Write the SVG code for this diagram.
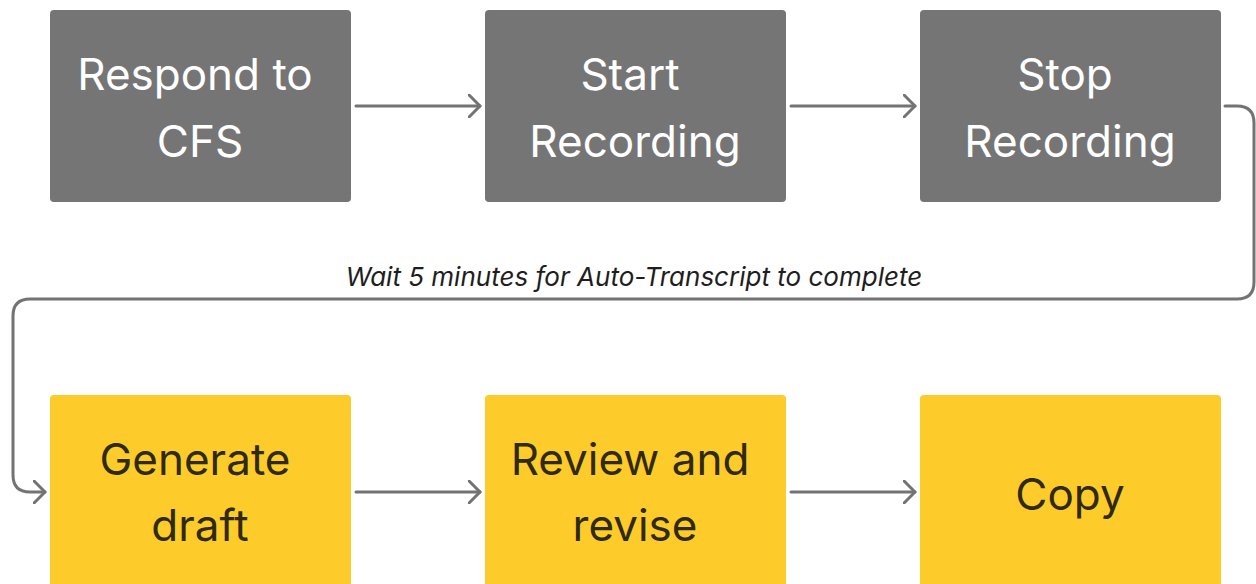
<svg xmlns="http://www.w3.org/2000/svg" width="1256" height="584" viewBox="0 0 1256 584">
<style>
.g rect{fill:#757575}
.y rect{fill:#FDCB2A}
.t{font-family:Inter,"Liberation Sans",sans-serif;font-size:44px;text-anchor:middle}
.g .t{fill:#ffffff}
.y .t{fill:#2F2A0C}
.c{fill:none;stroke:#737373;stroke-width:3;stroke-linecap:round;stroke-linejoin:round}
.lbl{font-family:Inter,"Liberation Sans",sans-serif;font-size:26px;font-style:italic;fill:#1e1e1e}
</style>
<defs>
<marker id="arr" markerUnits="userSpaceOnUse" markerWidth="24" markerHeight="24" viewBox="-12 -12 24 24" refX="0" refY="0" orient="auto">
<path d="M-11,-11 L0,0 L-11,11" fill="none" stroke="#737373" stroke-width="3" stroke-linecap="round" stroke-linejoin="round"/>
</marker>
</defs>
<rect width="1256" height="584" fill="#ffffff"/>
<g id="n1" class="g"><rect x="50" y="10" width="301" height="192" rx="4"/><text class="t" x="195" y="90">Respond to</text><text class="t" x="200" y="157">CFS</text></g>
<g id="n2" class="g"><rect x="485" y="10" width="301" height="192" rx="4"/><text class="t" x="630" y="90">Start</text><text class="t" x="635" y="157">Recording</text></g>
<g id="n3" class="g"><rect x="920" y="10" width="301" height="192" rx="4"/><text class="t" x="1065" y="90">Stop</text><text class="t" x="1070" y="157">Recording</text></g>
<g id="n4" class="y"><rect x="50" y="395" width="301" height="200" rx="4"/><text class="t" x="195" y="475">Generate</text><text class="t" x="200" y="541">draft</text></g>
<g id="n5" class="y"><rect x="485" y="395" width="301" height="200" rx="4"/><text class="t" x="630" y="475">Review and</text><text class="t" x="635" y="541">revise</text></g>
<g id="n6" class="y"><rect x="920" y="395" width="301" height="200" rx="4"/><text class="t" x="1070" y="510">Copy</text></g>
<g id="connectors">
<path class="c" d="M356,106 H480" marker-end="url(#arr)"/>
<path class="c" d="M791,106 H915" marker-end="url(#arr)"/>
<path class="c" d="M1225,106 H1237 Q1254,106 1254,123 V282 Q1254,299 1237,299 H30 Q13,299 13,316 V475 Q13,492 30,492 H45" marker-end="url(#arr)"/>
<path class="c" d="M356,492 H480" marker-end="url(#arr)"/>
<path class="c" d="M791,492 H915" marker-end="url(#arr)"/>
<text class="lbl" x="634" y="286" text-anchor="middle">Wait 5 minutes for Auto-Transcript to complete</text>
</g>
</svg>
